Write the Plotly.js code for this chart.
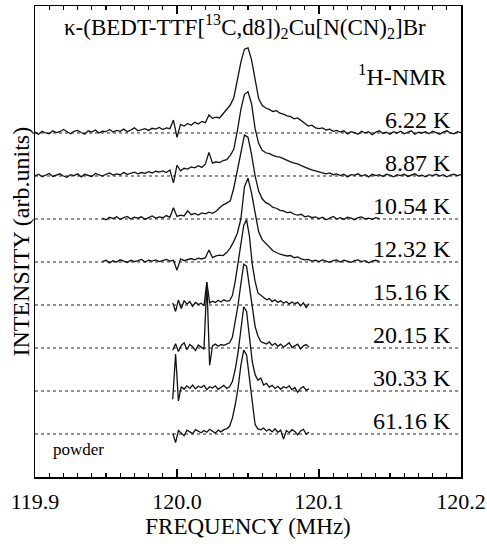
<!DOCTYPE html>
<html>
<head>
<meta charset="utf-8">
<script src="https://cdn.plot.ly/plotly-3.0.1.min.js"></script>
<style>
html,body{margin:0;padding:0;background:#fff;}
#chart{width:487px;height:546px;}
</style>
</head>
<body>
<div id="chart"></div>
<script>
// ---- data ----
const temperatures = ['6.22 K', '8.87 K', '10.54 K', '12.32 K', '15.16 K', '20.15 K', '30.33 K', '61.16 K'];
const offsets      = [7, 6, 5, 4, 3, 2, 1, 0];
const startFreq    = [119.9, 119.9, 119.9475, 119.9475, 119.997, 119.997, 119.997, 119.997];
const stepFreq     = [0.0025, 0.0025, 0.0025, 0.0025, 0.002, 0.002, 0.002, 0.002];

const int_6_22 = [
  0.02,-0.03,0.04,0.00,-0.02,0.05,0.01,0.03,0.08,0.02,
  -0.02,0.04,0.06,0.01,-0.03,0.05,0.02,0.07,0.00,0.04,
  0.03,0.08,0.02,0.06,0.04,0.09,0.03,0.07,0.12,0.05,
  0.08,0.10,0.06,0.11,0.09,0.13,0.08,0.12,0.10,0.30,
  -0.10,0.20,0.16,0.22,0.18,0.25,0.21,0.27,0.24,0.42,
  0.34,0.37,0.35,0.45,0.55,0.65,0.82,1.25,1.65,1.95,
  1.98,1.70,1.22,0.80,0.64,0.58,0.55,0.50,0.52,0.46,
  0.44,0.40,0.38,0.33,0.35,0.28,0.22,0.16,0.18,0.12,
  0.10,0.12,0.07,0.09,0.04,0.06,0.02,0.05,-0.02,0.03,
  0.01,-0.03,0.04,0.00,0.03,-0.04,0.02,0.05,-0.01,0.02,
  -0.03,0.03,0.00,0.04,-0.02,0.01,0.05,-0.03,0.02,0.00,
  0.03,-0.02,0.04,0.01,-0.03,0.02,0.05,0.00,-0.02,0.03,0.01];

const int_8_87 = [
  0.00,0.04,-0.02,0.03,0.06,-0.01,0.02,0.05,0.00,-0.03,
  0.03,0.01,0.05,-0.02,0.04,0.02,-0.01,0.06,0.03,0.00,
  0.04,0.07,0.02,0.05,0.03,0.08,0.04,0.06,0.09,0.05,
  0.08,0.06,0.10,0.07,0.11,0.09,0.12,0.08,0.14,-0.16,
  0.25,0.12,0.18,0.16,0.21,0.19,0.24,0.20,0.28,0.55,
  0.30,0.33,0.31,0.36,0.38,0.48,0.62,1.05,1.55,1.90,
  1.96,1.68,1.10,0.76,0.60,0.54,0.52,0.48,0.45,0.44,
  0.40,0.37,0.33,0.30,0.28,0.24,0.20,0.17,0.14,0.12,
  0.09,0.08,0.05,0.07,0.03,0.05,0.01,0.04,-0.02,0.03,
  0.02,0.05,0.00,0.03,-0.02,0.04,0.01,0.03,-0.01,0.04,
  0.02,-0.02,0.03,0.01,0.04,-0.01,0.02,0.05,0.00,0.02,
  -0.02,0.03,0.01,0.04,0.00,0.03,-0.02,0.02,0.04,0.01,0.03];

const int_10_54 = [
  0.02,-0.02,0.04,0.01,0.05,-0.01,0.03,0.06,0.00,0.04,
  0.02,0.05,-0.01,0.04,0.07,0.02,0.05,0.03,0.08,0.04,
  0.26,0.06,0.09,0.07,0.19,0.10,0.13,0.09,0.14,0.12,
  0.16,0.13,0.18,0.26,0.33,0.37,0.42,0.72,1.14,1.60,
  1.95,1.90,1.50,1.00,0.65,0.47,0.38,0.34,0.27,0.25,
  0.20,0.19,0.15,0.16,0.11,0.09,0.11,0.05,0.07,0.03,
  0.05,0.01,0.04,-0.02,0.03,0.06,0.00,0.03,-0.01,0.04,
  0.02,-0.02,0.03,0.05,0.00,0.02,-0.01,0.03,0.01];

const int_12_32 = [
  0.01,0.04,-0.02,0.03,0.00,0.05,0.02,-0.01,0.04,0.01,
  0.03,0.06,0.00,0.04,0.02,0.05,0.01,0.03,0.06,0.02,
  0.04,-0.19,0.07,0.03,0.06,0.08,0.05,0.09,0.07,0.10,
  0.28,0.10,0.14,0.16,0.15,0.22,0.33,0.48,0.67,1.00,
  1.75,1.95,1.60,1.10,0.70,0.52,0.44,0.35,0.26,0.22,
  0.18,0.16,0.14,0.15,0.10,0.12,0.07,0.05,0.06,0.02,
  0.04,0.01,0.05,0.02,-0.01,0.03,0.05,0.00,0.04,0.02,
  -0.01,0.03,0.05,0.01,0.03,-0.02,0.02,0.04,0.01];

const int_15_16 = [
  0.05,-0.15,0.12,-0.08,0.10,0.02,0.08,-0.03,0.06,0.01,
  0.04,-0.02,0.53,0.05,0.09,0.06,0.11,0.07,0.12,0.09,
  0.10,0.22,0.55,0.95,1.40,1.85,1.98,1.60,0.95,0.55,
  0.28,0.22,0.18,0.12,0.15,0.08,0.12,0.06,0.10,0.04,
  0.08,0.02,0.07,0.03,0.06,-0.02,0.05,-0.06,0.03];

const int_20_15 = [
  -0.05,0.10,-0.08,0.06,0.12,-0.04,0.08,0.03,-0.06,0.07,
  0.02,-0.03,1.52,-0.40,0.05,0.09,0.04,0.08,0.06,0.10,
  0.12,0.25,0.60,1.00,1.50,1.95,1.90,1.45,0.95,0.50,
  0.28,0.15,0.12,0.09,0.14,0.06,0.11,0.04,0.09,0.02,
  0.07,0.12,0.01,0.06,0.09,-0.02,0.05,0.08,0.02];

const int_30_33 = [
  -0.19,0.86,-0.23,0.10,0.04,0.12,0.06,0.14,0.05,0.11,
  0.08,0.13,0.03,0.10,0.07,0.12,0.04,0.09,0.13,0.06,
  0.10,0.22,0.50,0.90,1.45,1.96,1.85,1.25,0.68,0.38,
  0.25,0.30,0.14,0.18,0.09,0.13,0.06,0.11,0.04,0.10,
  0.07,0.12,0.03,0.08,-0.03,0.06,0.10,0.02,0.05];

const int_61_16 = [
  0.02,-0.20,0.08,0.03,-0.04,0.09,0.05,0.01,0.10,0.06,
  0.03,0.08,0.04,0.11,0.06,0.02,0.09,0.05,0.10,0.12,
  0.18,0.37,0.68,1.07,1.60,1.95,1.84,1.30,0.70,0.22,
  0.12,0.10,0.14,0.07,0.11,0.05,0.12,0.04,0.09,-0.12,
  0.08,0.03,0.10,0.06,-0.02,0.07,0.11,0.00,0.04];

const intensities = [int_6_22, int_8_87, int_10_54, int_12_32, int_15_16, int_20_15, int_30_33, int_61_16];

// ---- build figure ----
const SERIF = 'Liberation Serif, Times New Roman, serif';
const traces = [];
const shapes = [];
const annotations = [];

intensities.forEach((vals, k) => {
  const xs = vals.map((_, i) => +(startFreq[k] + i * stepFreq[k]).toFixed(5));
  const ys = vals.map(v => v + offsets[k]);
  traces.push({
    x: xs, y: ys, type: 'scatter', mode: 'lines',
    line: {color: '#111', width: 1.3},
    hoverinfo: 'skip', showlegend: false
  });
  shapes.push({
    type: 'line', xref: 'paper', x0: 0, x1: 1, yref: 'y', y0: offsets[k], y1: offsets[k],
    line: {color: '#222', width: 1, dash: 'dot'}, layer: 'below'
  });
  annotations.push({
    text: temperatures[k], xref: 'paper', x: 0.982, xanchor: 'right',
    yref: 'y', y: offsets[k], yanchor: 'bottom', yshift: -2,
    showarrow: false, font: {family: SERIF, size: 24, color: '#000'}
  });
});

annotations.push({
  text: 'κ-(BEDT-TTF[<sup>13</sup>C,d8])<sub>2</sub>Cu[N(CN)<sub>2</sub>]Br',
  xref: 'paper', x: 0.493, xanchor: 'center', yref: 'y', y: 9.08, yanchor: 'bottom',
  showarrow: false, font: {family: SERIF, size: 23, color: '#000'}
});
annotations.push({
  text: '<sup>1</sup>H-NMR', xref: 'paper', x: 0.97, xanchor: 'right',
  yref: 'y', y: 8.0, yanchor: 'bottom', yshift: -2,
  showarrow: false, font: {family: SERIF, size: 24, color: '#000'}
});
annotations.push({
  text: 'powder', xref: 'paper', x: 0.038, xanchor: 'left',
  yref: 'y', y: -0.62, yanchor: 'bottom',
  showarrow: false, font: {family: SERIF, size: 17, color: '#000'}
});
annotations.push({
  text: 'INTENSITY (arb.units)', textangle: -90,
  xref: 'paper', x: -0.035, xanchor: 'center', yref: 'paper', y: 0.5, yanchor: 'middle',
  showarrow: false, font: {family: SERIF, size: 24, color: '#000'}
});

const layout = {
  width: 487, height: 546,
  margin: {l: 35, r: 26, t: 6, b: 69},
  paper_bgcolor: '#fff', plot_bgcolor: '#fff',
  font: {family: SERIF, color: '#000'},
  showlegend: false,
  xaxis: {
    range: [119.9, 120.2], tickmode: 'linear', tick0: 119.9, dtick: 0.1, tickformat: '.1f',
    ticks: 'inside', ticklen: 8, tickwidth: 1.5, tickcolor: '#000',
    minor: {dtick: 0.01, ticks: 'inside', ticklen: 4, tickwidth: 1.2, tickcolor: '#000', showgrid: false},
    showline: true, linecolor: '#000', linewidth: 1.5, mirror: 'allticks',
    showgrid: false, zeroline: false,
    tickfont: {family: SERIF, size: 22, color: '#000'}, ticklabelstandoff: 4,
    title: {text: 'FREQUENCY (MHz)', font: {family: SERIF, size: 23, color: '#000'}, standoff: 2}
  },
  yaxis: {
    range: [-1.0, 9.953], showticklabels: false, ticks: '',
    showline: true, linecolor: '#000', linewidth: 1.5, mirror: true,
    showgrid: false, zeroline: false
  },
  shapes: shapes,
  annotations: annotations
};

Plotly.newPlot('chart', traces, layout, {staticPlot: true, displayModeBar: false});
</script>
</body>
</html>
